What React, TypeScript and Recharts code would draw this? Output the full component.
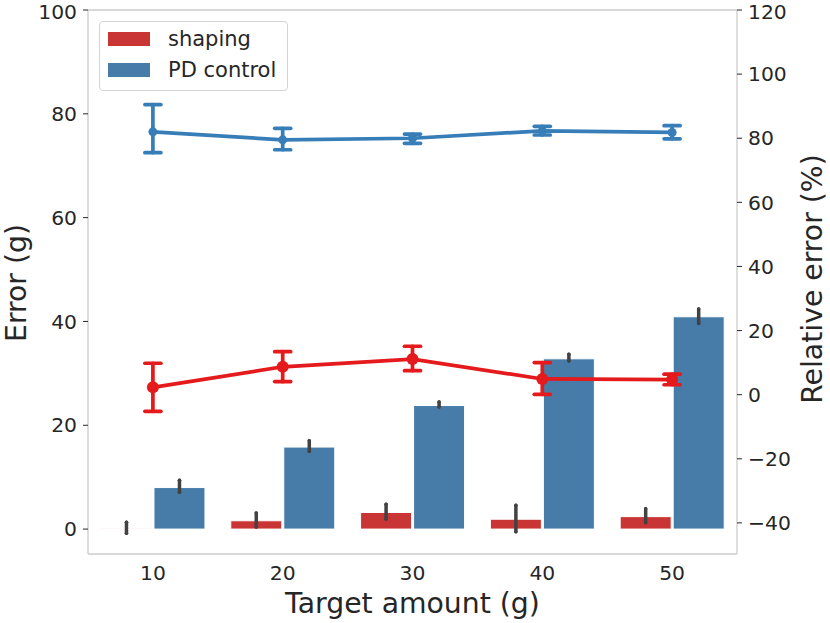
import React from 'react';
import {
  ComposedChart,
  Bar,
  Line,
  XAxis,
  YAxis,
  ErrorBar,
  Legend,
  ReferenceLine,
} from 'recharts';

const categories = ['10', '20', '30', '40', '50'];

// absolute error (g), left axis
const shapingError = [0.05, 1.6, 3.2, 1.9, 2.4];
const shapingErrorCI = [[0.85, 1.25], [1.2, 1.5], [1.3, 1.6], [2.4, 2.7], [1.2, 1.5]];
const pdError = [8.0, 15.8, 23.8, 32.8, 40.9];
const pdErrorCI = [[0.9, 1.4], [0.8, 1.2], [0.3, 0.7], [0.4, 0.9], [1.3, 1.5]];

// relative error (%), right axis
const shapingRel = [2.3, 8.7, 11.1, 4.9, 4.7];
const shapingRelCI = [[7.5, 7.5], [4.6, 4.7], [3.6, 4.0], [4.8, 5.1], [1.6, 1.7]];
const pdRel = [82.0, 79.5, 80.0, 82.3, 81.8];
const pdRelCI = [[6.5, 8.5], [3.1, 3.6], [1.6, 1.3], [1.3, 1.4], [2.0, 2.1]];

const leftTicks = [0, 20, 40, 60, 80, 100];
const rightTicks = [-40, -20, 0, 20, 40, 60, 80, 100, 120];

const data = categories.map((c, i) => ({
  target: c,
  shaping: shapingError[i],
  shapingCI: shapingErrorCI[i],
  pd: pdError[i],
  pdCI: pdErrorCI[i],
  shapingRel: shapingRel[i],
  shapingRelCI: shapingRelCI[i],
  pdRel: pdRel[i],
  pdRelCI: pdRelCI[i],
}));

const FONT = "'DejaVu Sans', sans-serif";
const TEXT = '#262626';
const SPINE = '#cccccc';
const RED_BAR = '#c93535';
const BLUE_BAR = '#477ca8';
const RED_LINE = '#e41a1c';
const BLUE_LINE = '#377eb8';
const LABEL_SIZE = 28.3;

const tickStyle = { fontFamily: FONT, fontSize: 20.3, fill: TEXT };
const minus = (v: number) => String(v).replace('-', '\u2212');

const LegendContent = () => (
  <div
    style={{
      width: 189,
      height: 70,
      border: '1px solid #d4d4d4',
      borderRadius: 4,
      background: 'rgba(255,255,255,0.8)',
      boxSizing: 'border-box',
      position: 'relative',
      fontFamily: FONT,
      fontSize: 21,
      color: TEXT,
    }}
  >
    {[
      { label: 'shaping', color: RED_BAR, top: 10 },
      { label: 'PD control', color: BLUE_BAR, top: 41 },
    ].map((e) => (
      <div key={e.label}>
        <div
          style={{
            position: 'absolute',
            left: 8,
            top: e.top,
            width: 42,
            height: 14,
            background: e.color,
          }}
        />
        <div
          style={{
            position: 'absolute',
            left: 68,
            top: e.top - 6,
            lineHeight: '26px',
            whiteSpace: 'nowrap',
          }}
        >
          {e.label}
        </div>
      </div>
    ))}
  </div>
);

export default function App() {
  return (
    <div style={{ position: 'absolute', left: 0, top: 0, background: '#fff' }}>
      <ComposedChart
        width={830}
        height={623}
        data={data}
        margin={{ top: 10, right: 0, bottom: 0, left: 0 }}
        barCategoryGap="10%"
        barGap={2}
      >
        <XAxis
          dataKey="target"
          height={69}
          tick={tickStyle}
          tickLine={false}
          tickSize={0}
          tickMargin={12}
          axisLine={{ stroke: SPINE, strokeWidth: 1.3 }}
          label={{
            content: (p: any) => {
              const vb = p.viewBox;
              return (
                <text
                  x={vb.x + vb.width / 2}
                  y={613}
                  textAnchor="middle"
                  fontFamily={FONT}
                  fontSize={LABEL_SIZE}
                  fill={TEXT}
                >
                  Target amount (g)
                </text>
              );
            },
          }}
        />
        <YAxis
          yAxisId="left"
          orientation="left"
          width={88}
          type="number"
          domain={[-4.8, 100]}
          ticks={leftTicks}
          allowDataOverflow
          tick={tickStyle}
          tickSize={5}
          tickMargin={6}
          tickLine={{ stroke: TEXT, strokeWidth: 1 }}
          axisLine={{ stroke: SPINE, strokeWidth: 1.3 }}
          label={{
            content: (p: any) => {
              const vb = p.viewBox;
              const cy = vb.y + vb.height / 2 + 1;
              return (
                <text
                  x={26}
                  y={cy}
                  transform={`rotate(-90, 26, ${cy})`}
                  textAnchor="middle"
                  fontFamily={FONT}
                  fontSize={LABEL_SIZE}
                  fill={TEXT}
                >
                  Error (g)
                </text>
              );
            },
          }}
        />
        <YAxis
          yAxisId="right"
          orientation="right"
          width={93}
          type="number"
          domain={[-49.7, 120]}
          ticks={rightTicks}
          allowDataOverflow
          tick={tickStyle}
          tickFormatter={minus}
          tickSize={5}
          tickMargin={6}
          tickLine={{ stroke: TEXT, strokeWidth: 1 }}
          axisLine={{ stroke: SPINE, strokeWidth: 1.3 }}
          label={{
            content: (p: any) => {
              const vb = p.viewBox;
              const cy = vb.y + vb.height / 2 - 3;
              return (
                <text
                  x={822}
                  y={cy}
                  transform={`rotate(-90, 822, ${cy})`}
                  textAnchor="middle"
                  fontFamily={FONT}
                  fontSize={LABEL_SIZE}
                  fill={TEXT}
                >
                  Relative error (%)
                </text>
              );
            },
          }}
        />
        <ReferenceLine yAxisId="left" y={100} stroke={SPINE} strokeWidth={1.3} />
        <Legend
          layout="vertical"
          align="center"
          verticalAlign="middle"
          content={<LegendContent />}
          wrapperStyle={{ position: 'absolute', left: 99, top: 21, width: 189, height: 70 }}
        />
        <Bar
          yAxisId="left"
          dataKey="shaping"
          name="shaping"
          fill={RED_BAR}
          stroke="#ffffff"
          strokeWidth={1}
          isAnimationActive={false}
        >
          <ErrorBar dataKey="shapingCI" width={0} stroke="#424242" strokeWidth={3.5} strokeLinecap="round" />
        </Bar>
        <Bar
          yAxisId="left"
          dataKey="pd"
          name="PD control"
          fill={BLUE_BAR}
          stroke="#ffffff"
          strokeWidth={1}
          isAnimationActive={false}
        >
          <ErrorBar dataKey="pdCI" width={0} stroke="#424242" strokeWidth={3.5} strokeLinecap="round" />
        </Bar>
        <Line
          yAxisId="right"
          dataKey="shapingRel"
          stroke={RED_LINE}
          strokeWidth={3.7}
          dot={{ r: 6, fill: RED_LINE, stroke: RED_LINE, strokeWidth: 0 }}
          activeDot={false}
          legendType="none"
          isAnimationActive={false}
        >
          <ErrorBar dataKey="shapingRelCI" width={8} stroke={RED_LINE} strokeWidth={3.7} strokeLinecap="round" />
        </Line>
        <Line
          yAxisId="right"
          dataKey="pdRel"
          stroke={BLUE_LINE}
          strokeWidth={3.7}
          dot={{ r: 4.5, fill: BLUE_LINE, stroke: BLUE_LINE, strokeWidth: 0 }}
          activeDot={false}
          legendType="none"
          isAnimationActive={false}
        >
          <ErrorBar dataKey="pdRelCI" width={8} stroke={BLUE_LINE} strokeWidth={3.7} strokeLinecap="round" />
        </Line>
      </ComposedChart>
    </div>
  );
}
